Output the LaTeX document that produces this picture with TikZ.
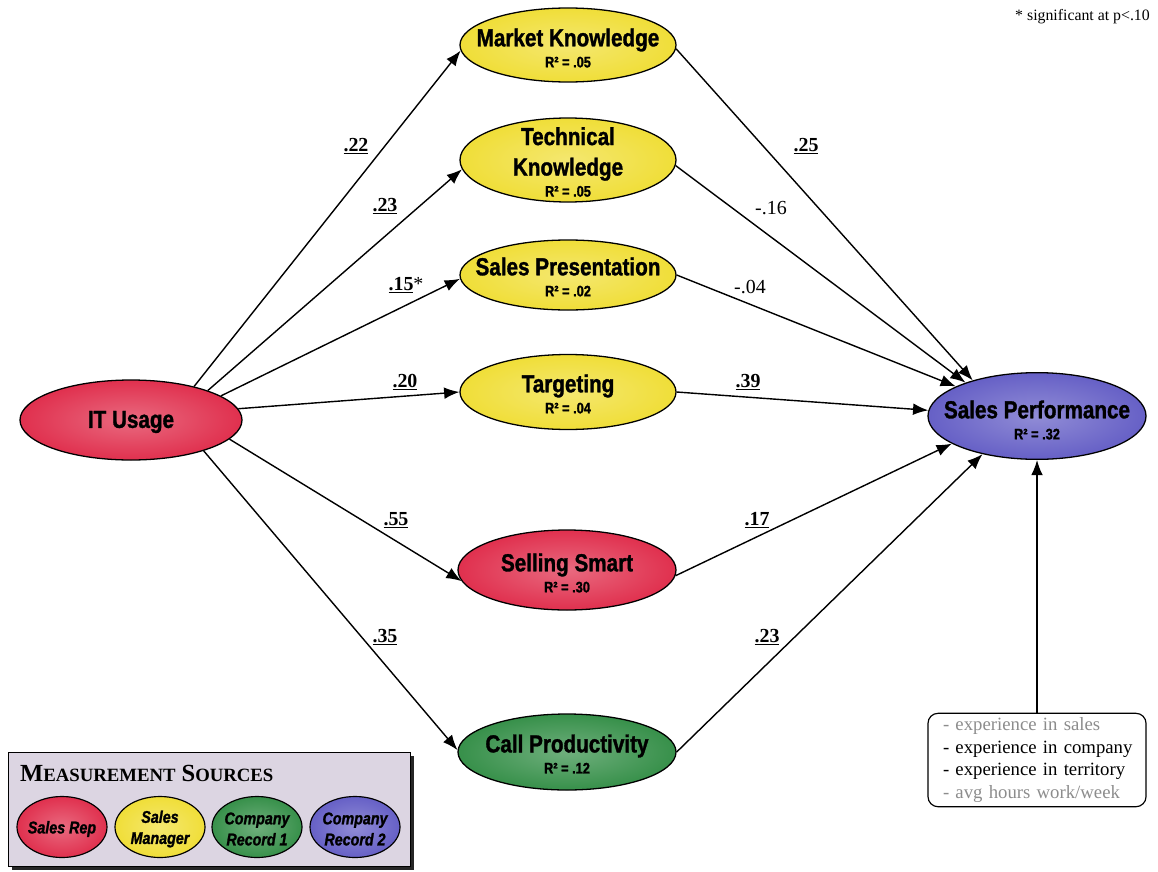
\documentclass[tikz,border=0pt]{standalone}
\usepackage{fontspec}
\setmainfont{Liberation Serif}
\newfontfamily\labelsans{Liberation Sans}[FakeStretch=0.84, BoldFeatures={FakeBold=1.3}, BoldItalicFeatures={FakeBold=1.3}]
\usetikzlibrary{arrows.meta,shapes.geometric}

\definecolor{srcred}{HTML}{E0304E}
\definecolor{srcyellow}{HTML}{F0DE38}
\definecolor{srcgreen}{HTML}{37904A}
\definecolor{srcblue}{HTML}{6660C6}
\definecolor{legendbg}{HTML}{DCD5E2}
\definecolor{ctrlgray}{HTML}{8C8C8C}

% construct captions: R-squared line
\newcommand\rsqline[1]{{\labelsans\bfseries\fontsize{13}{14}\selectfont R² = #1}}
\newcommand\sigcoef[1]{\textbf{\underline{#1}}}

\begin{document}
\begin{tikzpicture}[x=0.03cm, y=-0.03cm,
  construct/.style={ellipse, draw=black, line width=1.1pt, inner sep=0pt},
  redsrc/.style={inner color=srcred!72!white, outer color=srcred},
  yellowsrc/.style={inner color=srcyellow!72!white, outer color=srcyellow},
  greensrc/.style={inner color=srcgreen!72!white, outer color=srcgreen},
  bluesrc/.style={inner color=srcblue!72!white, outer color=srcblue},
  ctext/.style={align=center, inner sep=0pt,
    font=\labelsans\bfseries\fontsize{21}{26}\selectfont},
  legtext/.style={align=center, inner sep=0pt,
    font=\labelsans\bfseries\itshape\fontsize{14.5}{18}\selectfont},
  link/.style={line width=1.2pt, -{Latex[length=13pt,width=10pt]}},
  coef/.style={font=\fontsize{17}{19}\selectfont, inner sep=1pt},
  ctrlbox/.style={draw, line width=1pt, rounded corners=0.3cm,
    minimum width=6.54cm, minimum height=2.76cm, text width=5.64cm,
    inner xsep=0.45cm, align=left, font=\fontsize{16}{19.5}\selectfont},
  srcnode/.style={construct, line width=1pt, minimum width=2.7cm, minimum height=1.83cm}
]
\useasboundingbox (0,0) rectangle (1158,871);

% ---------- constructs ----------
\node[construct, redsrc, minimum width=6.66cm, minimum height=2.4cm] (it) at (131,420) {};
\node[ctext] (it-t) at (131,422) {IT Usage};

\node[construct, yellowsrc, minimum width=6.48cm, minimum height=2.22cm] (mk) at (568,45) {};
\node[ctext] (mk-t) at (568,48) {Market Knowledge\\[-8pt]\rsqline{.05}};

\node[construct, yellowsrc, minimum width=6.48cm, minimum height=2.52cm] (tk) at (568,160) {};
\node[ctext] (tk-t) at (568,162) {Technical\\Knowledge\\[-8pt]\rsqline{.05}};

\node[construct, yellowsrc, minimum width=6.48cm, minimum height=2.1cm] (sp) at (568,275) {};
\node[ctext] (sp-t) at (568,277) {Sales Presentation\\[-8pt]\rsqline{.02}};

\node[construct, yellowsrc, minimum width=6.48cm, minimum height=2.25cm] (tg) at (568,392) {};
\node[ctext] (tg-t) at (568,394) {Targeting\\[-8pt]\rsqline{.04}};

\node[construct, redsrc, minimum width=6.54cm, minimum height=2.4cm] (ss) at (567,570) {};
\node[ctext] (ss-t) at (567,573) {Selling Smart\\[-8pt]\rsqline{.30}};

\node[construct, greensrc, minimum width=6.54cm, minimum height=2.28cm] (cp) at (567,752) {};
\node[ctext] (cp-t) at (567,754) {Call Productivity\\[-8pt]\rsqline{.12}};

\node[construct, bluesrc, minimum width=6.54cm, minimum height=2.6cm] (perf) at (1037,416) {};
\node[ctext] (perf-t) at (1037,420) {Sales Performance\\[-8pt]\rsqline{.32}};

% ---------- paths from IT usage ----------
\draw[link] (it.28)  -- (mk.183);
\draw[link] (it.21)  -- (tk.185);
\draw[link] (it.15)  -- (sp.182);
\draw[link] (it.6)   -- (tg.west);
\draw[link] (it.-11) -- (ss.186);
\draw[link] (it.-23) -- (cp.179);

% ---------- paths to sales performance ----------
\draw[link] (mk.-2)  -- (perf.151);
\draw[link] (tk.-3)  -- (perf.155);
\draw[link] (sp.east) -- (perf.160);
\draw[link] (tg.east) -- (perf.177);
\draw[link] (ss.-3)  -- (perf.198);
\draw[link] (cp.east) -- (perf.215);

% ---------- path coefficients ----------
\node[coef] (c-mk) at (356,146) {\sigcoef{.22}};
\node[coef] (c-tk) at (385,206) {\sigcoef{.23}};
\node[coef] (c-sp) at (406,285) {\sigcoef{.15}*};
\node[coef] (c-tg) at (405,382) {\sigcoef{.20}};
\node[coef] (c-ss) at (396,520) {\sigcoef{.55}};
\node[coef] (c-cp) at (385,637) {\sigcoef{.35}};

\node[coef] (d-mk) at (806,146) {\sigcoef{.25}};
\node[coef] (d-tk) at (771,208) {-.16};
\node[coef] (d-sp) at (750,287) {-.04};
\node[coef] (d-tg) at (748,382) {\sigcoef{.39}};
\node[coef] (d-ss) at (757,520) {\sigcoef{.17}};
\node[coef] (d-cp) at (767,637) {\sigcoef{.23}};

% ---------- control variables ----------
\node[ctrlbox] (ctrl) at (1037,760) {\mbox{\textcolor{ctrlgray}{- experience in sales}}\\
  \mbox{- experience in company}\\
  \mbox{- experience in territory}\\
  \mbox{\textcolor{ctrlgray}{- avg hours work/week}}};
\draw[link] (ctrl.north) -- (perf.south);

% ---------- significance note ----------
\node[anchor=east, font=\fontsize{13.5}{15}\selectfont, inner sep=0pt] (note) at (1150,17) {* significant at p<.10};

% ---------- legend ----------
\fill[black!85] (12,756) rectangle (414,870);
\node[draw=black, line width=0.8pt, fill=legendbg, minimum width=12.06cm, minimum height=3.42cm,
  inner sep=0pt] (legend) at (209,809) {};
\node[anchor=base west, inner sep=0pt, font=\bfseries] (legend-title) at (20,781)
  {{\fontsize{21}{22}\selectfont M}{\fontsize{16}{18}\selectfont EASUREMENT}\hspace{5pt}{\fontsize{21}{22}\selectfont S}{\fontsize{16}{18}\selectfont OURCES}};

\node[srcnode, redsrc] (lg-rep) at (62,827) {};
\node[legtext] (lg-rep-t) at (62,829) {Sales Rep};
\node[srcnode, yellowsrc] (lg-mgr) at (160,827) {};
\node[legtext] (lg-mgr-t) at (160,829) {Sales\\Manager};
\node[srcnode, greensrc] (lg-rec1) at (257,827) {};
\node[legtext] (lg-rec1-t) at (257,829) {Company\\Record 1};
\node[srcnode, bluesrc] (lg-rec2) at (355,827) {};
\node[legtext] (lg-rec2-t) at (355,829) {Company\\Record 2};
\end{tikzpicture}
\end{document}
